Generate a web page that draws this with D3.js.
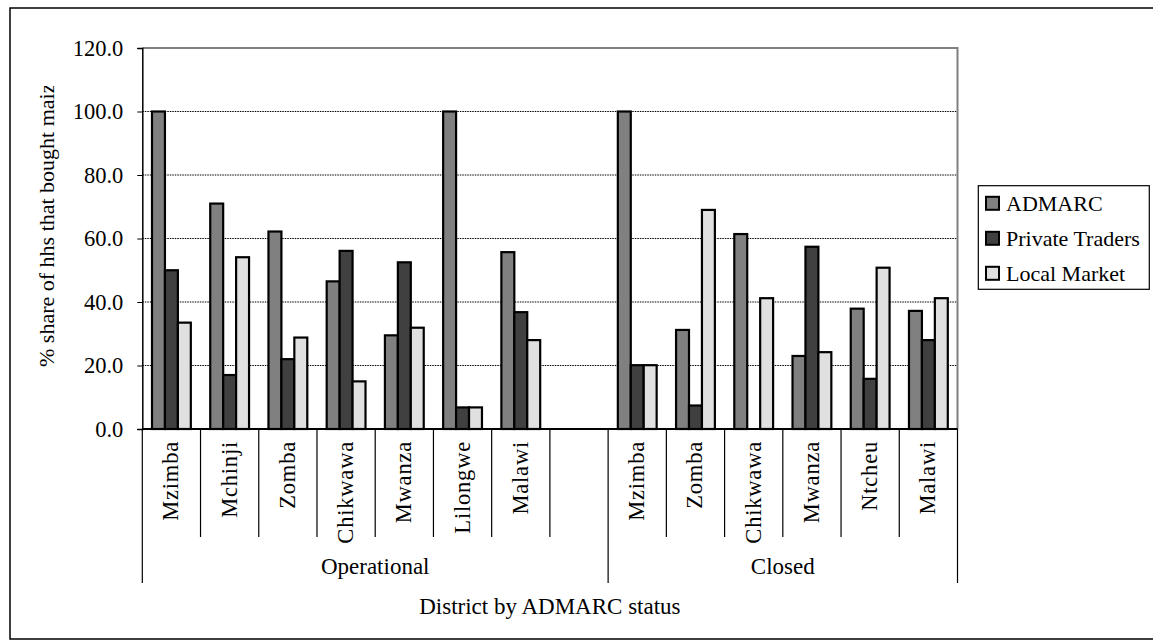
<!DOCTYPE html>
<html>
<head>
<meta charset="utf-8">
<script src="https://cdn.jsdelivr.net/npm/d3@7"></script>
<style>
  body { margin: 0; background: #fff; }
  svg text { font-family: "Liberation Serif", "Times New Roman", serif; fill: #000; }
</style>
</head>
<body>
<div id="chart"></div>
<script>
// data
const groups = ["Operational", "Closed"];
const operationalDistricts = ["Mzimba", "Mchinji", "Zomba", "Chikwawa", "Mwanza", "Lilongwe", "Malawi", ""];
const closedDistricts = ["Mzimba", "Zomba", "Chikwawa", "Mwanza", "Ntcheu", "Malawi"];
const seriesNames = ["ADMARC", "Private Traders", "Local Market"];
const seriesColors = ["#808080", "#404040", "#e0e0e0"];
const admarcValues   = [100.0, 71.0, 62.2, 46.5, 29.5, 100.0, 55.7, null, 100.0, 31.2, 61.4, 23.0, 37.9, 37.2];
const privateValues  = [50.0, 17.0, 22.0, 56.1, 52.5, 6.8, 36.8, null, 20.1, 7.4, 0, 57.4, 15.8, 28.0];
const localValues    = [33.5, 54.1, 28.8, 15.0, 31.9, 6.8, 28.0, null, 20.1, 69.0, 41.2, 24.2, 50.8, 41.2];
const yTicks = [0, 20, 40, 60, 80, 100, 120];

const W = 1153, H = 643;
const plot = {left: 142.3, right: 957.5, top: 48, bottom: 429};

const slots = [];
operationalDistricts.forEach(d => slots.push({group: groups[0], name: d}));
closedDistricts.forEach(d => slots.push({group: groups[1], name: d}));
slots.forEach((s, i) => {
    s.key = i;
    s.values = [admarcValues[i], privateValues[i], localValues[i]];
});

const svg = d3.select("#chart").append("svg")
    .attr("width", W)
    .attr("height", H);

// outer frame
svg.append("rect")
    .attr("x", 10).attr("y", 8)
    .attr("width", W + 10).attr("height", 631)
    .attr("fill", "none").attr("stroke", "#000").attr("stroke-width", 1.5);

const x = d3.scaleBand().domain(slots.map(s => s.key)).range([plot.left, plot.right]).padding(0);
const xs = d3.scaleBand().domain(seriesNames).range([0, x.bandwidth()]).paddingInner(0).paddingOuter(0.75);
const y = d3.scaleLinear().domain([0, 120]).range([plot.bottom, plot.top]);

// gridlines
svg.append("g").selectAll("line")
    .data(yTicks.filter(t => t > 0 && t < 120))
    .join("line")
    .attr("x1", plot.left).attr("x2", plot.right)
    .attr("y1", d => y(d)).attr("y2", d => y(d))
    .attr("stroke", "#000").attr("stroke-width", 1)
    .attr("stroke-dasharray", "1.5,1");

// plot border (top + right, grey)
svg.append("path")
    .attr("d", `M${plot.left},${y(120)}H${plot.right}V${plot.bottom}`)
    .attr("fill", "none").attr("stroke", "#808080").attr("stroke-width", 2);

// bars
const slotG = svg.append("g").selectAll("g")
    .data(slots)
    .join("g")
    .attr("transform", d => `translate(${x(d.key)},0)`);

slotG.selectAll("rect")
    .data(d => d.values.map((v, i) => ({series: seriesNames[i], value: v, color: seriesColors[i]})).filter(b => b.value))
    .join("rect")
    .attr("x", d => xs(d.series))
    .attr("width", xs.bandwidth())
    .attr("y", d => y(d.value))
    .attr("height", d => y(0) - y(d.value))
    .attr("fill", d => d.color)
    .attr("stroke", "#000").attr("stroke-width", 2.2);

// y axis
const yAxis = svg.append("g")
    .attr("transform", `translate(${plot.left},0)`)
    .call(d3.axisLeft(y).tickValues(yTicks).tickFormat(d3.format(".1f")).tickSize(5).tickPadding(14));
yAxis.select(".domain").attr("stroke", "#000").attr("stroke-width", 1.5);
yAxis.selectAll(".tick line").attr("stroke", "#000");
yAxis.selectAll(".tick text").attr("font-size", 22.5).attr("font-family", "Liberation Serif");

// x axis line
svg.append("line")
    .attr("x1", plot.left).attr("x2", plot.right)
    .attr("y1", plot.bottom).attr("y2", plot.bottom)
    .attr("stroke", "#000").attr("stroke-width", 2);

// category dividers
const boundaries = d3.range(slots.length + 1);
svg.append("g").selectAll("line")
    .data(boundaries)
    .join("line")
    .attr("x1", i => plot.left + i * x.step())
    .attr("x2", i => plot.left + i * x.step())
    .attr("y1", plot.bottom)
    .attr("y2", i => (i === 0 || i === operationalDistricts.length || i === slots.length) ? 583 : 537)
    .attr("stroke", "#000").attr("stroke-width", 1.2);

// category labels
svg.append("g").selectAll("text")
    .data(slots.filter(s => s.name))
    .join("text")
    .attr("transform", d => `translate(${x(d.key) + x.bandwidth() / 2 + 7},441) rotate(-90)`)
    .attr("text-anchor", "end")
    .attr("font-size", 22.5)
    .attr("letter-spacing", 0.8)
    .text(d => d.name);

// group labels
const groupSpan = {
    Operational: [0, operationalDistricts.length],
    Closed: [operationalDistricts.length, slots.length]
};
svg.append("g").selectAll("text")
    .data(groups)
    .join("text")
    .attr("x", g => plot.left + (groupSpan[g][0] + groupSpan[g][1]) / 2 * x.step())
    .attr("y", 574)
    .attr("text-anchor", "middle")
    .attr("font-size", 23)
    .text(g => g);

// axis titles
svg.append("text")
    .attr("x", (plot.left + plot.right) / 2)
    .attr("y", 614)
    .attr("text-anchor", "middle")
    .attr("font-size", 23)
    .text("District by ADMARC status");

svg.append("clipPath").attr("id", "ytitle-clip")
    .append("rect").attr("x", 0).attr("y", 86).attr("width", 140).attr("height", 400);

svg.append("g").attr("clip-path", "url(#ytitle-clip)")
    .append("text")
    .attr("transform", "translate(53.5,367) rotate(-90)")
    .attr("font-size", 22)
    .text("% share of hhs that bought maize");

// legend
const legend = svg.append("g");
legend.append("rect")
    .attr("x", 978.3).attr("y", 185.7)
    .attr("width", 171).attr("height", 103.6)
    .attr("fill", "#fff").attr("stroke", "#000").attr("stroke-width", 1.2);

const legendRow = legend.selectAll("g.row")
    .data(seriesNames)
    .join("g")
    .attr("class", "row")
    .attr("transform", (d, i) => `translate(986,${203.3 + i * 35})`);

legendRow.append("rect")
    .attr("x", 0).attr("y", -6.5)
    .attr("width", 13).attr("height", 13)
    .attr("fill", (d, i) => seriesColors[i])
    .attr("stroke", "#000").attr("stroke-width", 2);

legendRow.append("text")
    .attr("x", 20).attr("y", 0)
    .attr("dy", "0.35em")
    .attr("font-size", 22)
    .text(d => d);
</script>
</body>
</html>
